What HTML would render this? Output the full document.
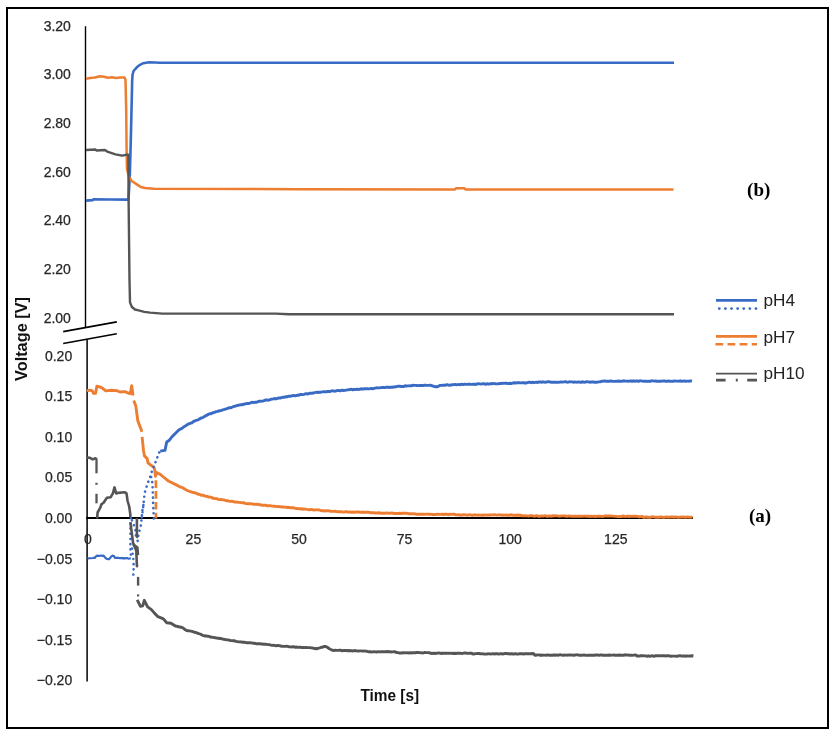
<!DOCTYPE html>
<html><head><meta charset="utf-8"><style>
html,body{margin:0;padding:0;background:#fff;}
svg{display:block;will-change:transform;}
text{paint-order:stroke;}
.tk{font-family:"Liberation Sans",sans-serif;font-size:14px;fill:#262626;stroke:#262626;stroke-width:0.25px;}
.ttl{font-family:"Liberation Sans",sans-serif;font-size:16px;font-weight:bold;fill:#111;}
.lab{font-family:"Liberation Serif",serif;font-size:19px;font-weight:bold;fill:#000;}
.lg{font-family:"Liberation Sans",sans-serif;font-size:17.2px;fill:#222;}
</style></head><body>
<svg width="834" height="734" viewBox="0 0 834 734">
<rect width="834" height="734" fill="#fff"/>
<rect x="7" y="8" width="821" height="720" fill="none" stroke="#000" stroke-width="2"/>
<line x1="85.5" y1="26.3" x2="85.5" y2="327" stroke="#000" stroke-width="1.4"/>
<line x1="87.1" y1="339.5" x2="87.1" y2="681.5" stroke="#000" stroke-width="1.5"/>
<line x1="86.2" y1="518" x2="693" y2="518" stroke="#000" stroke-width="2"/>
<line x1="63.2" y1="331.6" x2="116.8" y2="321.9" stroke="#000" stroke-width="1.6"/>
<line x1="63.2" y1="343.5" x2="116.8" y2="333.7" stroke="#000" stroke-width="1.6"/>
<text x="70.9" y="30.6" class="tk" text-anchor="end">3.20</text>
<text x="70.9" y="79.3" class="tk" text-anchor="end">3.00</text>
<text x="70.9" y="128.0" class="tk" text-anchor="end">2.80</text>
<text x="70.9" y="176.7" class="tk" text-anchor="end">2.60</text>
<text x="70.9" y="225.4" class="tk" text-anchor="end">2.40</text>
<text x="70.9" y="274.1" class="tk" text-anchor="end">2.20</text>
<text x="70.9" y="322.8" class="tk" text-anchor="end">2.00</text>
<text x="72.2" y="360.6" class="tk" text-anchor="end">0.20</text>
<text x="72.2" y="401.2" class="tk" text-anchor="end">0.15</text>
<text x="72.2" y="441.8" class="tk" text-anchor="end">0.10</text>
<text x="72.2" y="482.4" class="tk" text-anchor="end">0.05</text>
<text x="72.2" y="523.0" class="tk" text-anchor="end">0.00</text>
<text x="72.2" y="563.6" class="tk" text-anchor="end">−0.05</text>
<text x="72.2" y="604.2" class="tk" text-anchor="end">−0.10</text>
<text x="72.2" y="644.8" class="tk" text-anchor="end">−0.15</text>
<text x="72.2" y="685.4" class="tk" text-anchor="end">−0.20</text>
<text x="87.8" y="544" class="tk" text-anchor="middle">0</text>
<text x="193.4" y="544" class="tk" text-anchor="middle">25</text>
<text x="299.0" y="544" class="tk" text-anchor="middle">50</text>
<text x="404.6" y="544" class="tk" text-anchor="middle">75</text>
<text x="510.2" y="544" class="tk" text-anchor="middle">100</text>
<text x="615.8" y="544" class="tk" text-anchor="middle">125</text>
<text x="389.8" y="701" class="ttl" text-anchor="middle" textLength="58.7" lengthAdjust="spacingAndGlyphs">Time [s]</text>
<text transform="translate(26.8,339) rotate(-90)" x="0" y="0" class="ttl" text-anchor="middle" textLength="84" lengthAdjust="spacingAndGlyphs">Voltage [V]</text>
<text x="760" y="522" class="lab" text-anchor="middle">(a)</text>
<text x="758.7" y="195.5" class="lab" text-anchor="middle">(b)</text>
<line x1="716" y1="300.4" x2="757" y2="300.4" stroke="#3a6bc4" stroke-width="2.6"/>
<line x1="719.3" y1="308.6" x2="757" y2="308.6" stroke="#3a6bc4" stroke-width="2.9" stroke-dasharray="0.01 6.1" stroke-linecap="round"/>
<line x1="716" y1="336.4" x2="757" y2="336.4" stroke="#ed7d31" stroke-width="2.8"/>
<line x1="715.4" y1="344.2" x2="757" y2="344.2" stroke="#ed7d31" stroke-width="2.6" stroke-dasharray="7.8 4.3"/>
<line x1="716" y1="373.6" x2="757" y2="373.6" stroke="#555555" stroke-width="1.9"/>
<line x1="716" y1="380.2" x2="757" y2="380.2" stroke="#555555" stroke-width="2.8" stroke-dasharray="9.6 10.2 2 9.4 9.6 0"/>
<text x="763.5" y="305.5" class="lg">pH4</text>
<text x="763.5" y="343" class="lg">pH7</text>
<text x="763.5" y="378.7" class="lg">pH10</text>
<polyline points="86.0,200.6 92.6,200.1 93.5,199.4 110.0,199.5 127.0,199.6 128.5,199.6 129.8,176.0 130.8,140.0 131.5,110.0 132.2,80.0 132.6,74.5 133.6,71.0 136.8,67.3 140.0,64.8 143.3,63.2 149.0,62.2 155.0,62.5 160.0,62.7 300.0,62.8 500.0,62.8 674.0,62.8" fill="none" stroke="#3a6bc4" stroke-width="2.6" stroke-linejoin="round"/>
<polyline points="86.0,78.8 90.0,78.0 95.0,77.5 100.0,76.2 104.0,76.8 108.0,77.8 112.0,77.3 116.0,77.9 120.0,77.6 124.6,77.6 125.5,80.0 126.2,110.0 126.6,150.0 126.9,168.6 128.8,176.3 131.7,181.0 134.0,182.5 137.2,184.6 140.8,187.0 145.0,188.0 154.0,188.7 300.0,189.2 455.0,189.5 456.0,188.3 464.5,188.3 465.5,189.6 673.5,189.6" fill="none" stroke="#ed7d31" stroke-width="2.5" stroke-linejoin="round"/>
<polyline points="86.0,150.0 95.5,149.5 96.4,150.5 105.0,150.0 107.9,151.9 115.5,154.3 122.2,155.7 126.0,154.8 128.4,154.8 128.6,200.0 129.5,280.0 130.0,302.4 131.9,307.0 135.0,309.5 138.6,310.4 144.3,311.9 150.0,312.6 162.4,313.6 275.7,313.6 288.6,314.2 674.0,314.2" fill="none" stroke="#555555" stroke-width="2.4" stroke-linejoin="round"/>
<polyline points="86.7,390.6 90.1,390.2 92.4,390.9 93.5,393.3 95.6,393.3 96.9,386.1 100.3,387.1 102.4,388.1 105.8,390.9 111.2,390.2 116.7,390.6 120.1,392.0 124.9,391.6 129.0,393.3 130.3,393.6 131.7,385.7 133.0,395.5" fill="none" stroke="#ed7d31" stroke-width="2.9" stroke-linejoin="round"/>
<polyline points="133.7,400.4 135.8,405.9 137.8,420.8 140.5,427.7 141.9,431.7" fill="none" stroke="#ed7d31" stroke-width="2.9" stroke-linejoin="round"/>
<polyline points="142.1,436.8 143.5,450.4 144.5,455.9 147.2,458.6 147.9,462.7 150.3,464.8 153.7,467.1 154.7,469.5 155.4,476.3 156.7,472.6 160.0,474.2 164.0,477.5 168.4,481.0 176.8,485.1 178.0,485.7 179.2,486.4 180.3,487.0 181.5,487.2 182.7,487.8 183.9,488.6 185.1,489.1 186.2,490.0 187.4,490.5 188.6,491.0 189.9,491.5 191.3,491.9 192.6,492.4 194.0,492.5 195.3,493.1 196.6,493.3 198.0,494.2 199.3,494.1 200.7,495.0 202.0,495.2 203.3,495.3 204.7,496.0 206.0,496.1 207.4,496.5 208.7,497.1 210.0,497.0 211.4,497.3 212.7,498.2 214.1,498.3 215.4,498.6 216.8,498.6 218.1,499.4 219.5,499.6 220.8,499.4 222.2,499.8 223.5,499.9 224.8,500.2 226.2,500.7 227.6,500.6 228.9,501.1 230.2,501.4 231.6,501.2 232.9,501.4 234.3,502.0 235.6,501.9 236.9,502.1 238.3,502.3 239.6,502.4 241.0,502.6 242.3,502.8 243.6,502.7 245.0,503.3 246.3,503.6 247.7,503.7 249.0,503.7 250.3,503.7 251.7,503.8 253.0,504.2 254.4,504.3 255.7,504.4 257.1,504.3 258.5,504.5 259.9,504.7 261.3,505.0 262.7,505.3 264.1,505.3 265.5,505.1 266.9,505.7 268.3,505.6 269.7,505.8 271.1,505.8 272.5,506.1 273.8,506.2 275.2,506.3 276.5,506.6 277.9,506.4 279.2,506.7 280.6,506.6 281.9,507.1 283.3,506.8 284.6,507.1 286.0,507.2 287.3,507.5 288.7,507.3 290.0,507.7 291.4,507.8 292.8,507.8 294.2,508.0 295.6,508.3 297.0,508.7 298.4,508.5 299.8,509.0 301.2,508.6 302.6,509.2 304.0,509.0 305.4,509.1 306.8,509.4 308.2,509.6 309.6,509.8 311.0,509.4 312.4,509.7 313.8,510.1 315.2,509.9 316.6,509.9 318.0,509.9 319.4,510.0 320.8,510.5 322.2,510.8 323.6,510.6 325.0,511.0 326.4,510.8 327.8,510.6 329.2,510.9 330.6,511.3 332.0,511.4 333.4,511.4 334.8,511.2 336.2,511.5 337.6,511.6 339.0,511.8 340.4,511.8 341.7,511.7 343.0,512.1 344.4,512.1 345.7,511.7 347.0,511.8 348.3,512.2 349.6,511.9 351.0,512.3 352.3,512.0 353.6,512.2 354.9,512.2 356.3,511.9 357.6,512.0 358.9,512.0 360.2,512.3 361.5,512.3 362.9,512.0 364.2,512.5 365.5,512.3 366.8,512.3 368.1,512.3 369.5,512.4 370.8,512.8 372.1,512.6 373.4,512.7 374.8,513.0 376.1,513.0 377.4,513.0 378.7,512.8 380.0,513.0 381.4,513.2 382.7,513.2 384.0,513.1 385.3,513.2 386.6,513.0 387.9,513.1 389.2,513.3 390.5,513.2 391.8,512.9 393.1,513.3 394.4,513.5 395.8,513.4 397.1,513.5 398.4,513.5 399.7,513.3 401.0,513.5 402.3,513.3 403.6,513.1 404.9,513.3 406.2,513.3 407.5,513.4 408.8,513.8 410.1,513.7 411.4,513.7 412.7,513.9 414.1,513.7 415.4,514.0 416.7,514.2 418.0,514.1 419.3,514.3 420.6,514.1 422.0,514.2 423.3,514.2 424.6,514.4 426.0,514.1 427.3,514.1 428.7,514.2 430.0,514.3 431.3,514.4 432.7,514.5 434.0,514.4 435.3,514.6 436.6,514.3 438.0,514.1 439.3,514.4 440.6,514.4 441.9,514.2 443.3,514.5 444.6,514.3 445.9,514.3 447.2,514.3 448.6,514.7 449.9,514.2 451.2,514.4 452.5,514.3 453.9,514.3 455.2,514.5 456.0,514.9 457.3,514.9 458.6,514.7 460.0,515.2 461.3,514.9 462.6,515.0 463.9,514.7 465.2,514.9 466.5,515.0 467.9,515.1 469.2,514.8 470.5,514.9 471.8,515.2 473.1,515.2 474.5,514.8 475.8,515.0 477.1,515.1 478.4,514.9 479.7,515.1 481.0,515.1 482.4,515.3 483.7,515.0 485.0,515.1 486.3,514.9 487.6,515.1 489.0,514.9 490.3,515.0 491.6,514.9 492.9,514.9 494.2,514.8 495.6,514.9 496.9,515.1 498.2,514.9 499.5,514.8 500.8,515.2 502.1,514.9 503.5,515.3 504.8,515.1 506.1,515.0 507.4,515.3 508.7,515.3 510.1,515.0 511.4,514.8 512.7,515.2 514.0,515.3 515.3,515.1 516.6,515.3 518.0,515.0 519.3,515.2 520.6,515.1 521.0,515.9 522.3,515.8 523.6,515.9 524.9,515.8 526.2,515.9 527.5,515.9 528.8,516.1 530.1,515.7 531.4,515.8 532.7,515.8 534.0,516.2 535.3,516.0 536.6,515.7 537.9,516.2 539.2,516.2 540.5,516.2 541.8,515.9 543.1,516.2 544.4,515.9 545.7,515.8 547.0,516.3 548.3,516.2 549.6,515.9 550.9,516.3 552.2,515.8 553.5,516.0 554.8,515.8 556.1,515.9 557.4,515.9 558.7,516.2 560.0,516.1 561.3,516.0 562.6,515.9 563.9,515.9 565.2,516.0 566.5,516.3 567.8,516.2 569.1,515.9 570.5,516.2 571.8,516.2 573.1,516.1 574.4,516.2 575.7,516.2 577.0,516.3 578.3,516.2 579.6,516.3 580.9,516.2 582.2,516.3 583.5,516.1 584.8,516.1 586.1,516.2 587.4,516.3 588.7,516.1 590.0,516.5 591.4,516.2 592.7,516.4 594.0,516.3 595.3,516.5 596.6,516.3 597.9,516.2 599.2,516.2 600.5,516.3 601.8,516.4 603.1,516.5 604.4,516.0 605.7,516.0 607.0,516.0 608.3,516.0 609.6,516.0 610.9,516.0 612.3,516.1 613.6,516.1 614.9,516.4 616.2,516.4 617.5,516.6 618.8,516.6 620.1,516.5 621.4,516.6 622.7,516.0 624.0,516.2 625.3,516.6 626.6,516.3 627.9,516.2 629.2,516.5 630.5,516.3 631.8,516.4 633.2,516.3 634.5,516.2 635.8,516.1 637.1,516.4 638.4,516.7 639.7,516.7 641.0,516.6 642.3,516.4 643.0,517.1 644.3,517.4 645.6,517.0 646.9,517.0 648.2,517.4 649.5,517.2 650.8,517.2 652.1,516.8 653.4,516.9 654.7,517.1 656.1,517.2 657.4,517.3 658.7,517.3 660.0,517.0 661.3,517.0 662.6,517.3 663.9,517.4 665.2,517.1 666.5,516.9 667.8,517.2 669.1,517.1 670.4,517.0 671.7,516.9 673.0,517.0 674.3,517.2 675.6,516.9 676.9,517.1 678.2,517.4 679.5,517.2 680.9,517.0 682.2,517.1 683.5,516.9 684.8,517.2 686.1,517.2 687.4,516.9 688.7,517.1 690.0,517.2 691.3,517.1 692.6,517.1" fill="none" stroke="#ed7d31" stroke-width="2.9" stroke-linejoin="round"/>
<polyline points="155.9,480.3 156.0,500.0 155.9,518.6" fill="none" stroke="#ed7d31" stroke-width="2.7" stroke-dasharray="7.7 3.1"/>
<polyline points="87.5,558.4 93.0,558.0 94.0,557.7 95.0,557.8 96.0,556.4 97.0,555.7 98.1,555.8 99.2,555.8 100.3,555.7 101.4,555.5 102.5,555.9 103.6,555.7 105.0,557.4 106.0,558.4 107.0,559.0 108.0,559.1 109.0,559.2 111.0,556.9 112.3,555.7 114.0,556.0 115.0,557.9 116.0,557.9 117.0,557.8 118.0,557.7 119.0,558.0 120.0,558.1 121.0,558.2 122.0,557.9 123.0,558.4 124.0,558.1 125.0,558.3 126.2,558.2 127.4,558.1 128.5,558.7 129.7,558.5 130.9,558.4" fill="none" stroke="#3a6bc4" stroke-width="2.2" stroke-linejoin="round"/>
<polyline points="130.9,518.1 130.4,526.8 130.4,537.7 130.4,548.6 130.9,555.1" fill="none" stroke="#3a6bc4" stroke-width="2.6" stroke-dasharray="0.01 5.2" stroke-linecap="round"/>
<polyline points="132.0,520.3 135.3,529.0 136.3,539.9" fill="none" stroke="#3a6bc4" stroke-width="2.6" stroke-dasharray="0.01 5.2" stroke-linecap="round"/>
<polyline points="132.0,548.6 133.6,561.7 133.6,570.4 133.1,576.9" fill="none" stroke="#3a6bc4" stroke-width="2.6" stroke-dasharray="0.01 5.2" stroke-linecap="round"/>
<polyline points="143.4,505.0 142.3,511.0 141.8,516.4 141.3,521.3 140.7,526.8 139.1,532.2 138.0,537.2 137.4,543.1" fill="none" stroke="#3a6bc4" stroke-width="2.6" stroke-dasharray="0.01 5.2" stroke-linecap="round"/>
<polyline points="141.8,517.4 143.4,505.4 144.5,493.4 147.2,484.7 150.5,476.0 152.4,469.5 154.7,464.8 155.8,461.3 157.5,456.9 158.5,453.5 160.2,451.1" fill="none" stroke="#3a6bc4" stroke-width="2.6" stroke-dasharray="0.01 5.2" stroke-linecap="round"/>
<polyline points="153.8,518.5 153.2,505.4 152.7,489.0 152.1,480.3 150.5,474.9" fill="none" stroke="#3a6bc4" stroke-width="2.6" stroke-dasharray="0.01 5.2" stroke-linecap="round"/>
<polyline points="160.2,451.1 163.0,450.6 165.0,450.4 166.7,442.0 169.4,440.2 171.8,437.0 178.5,430.3 179.7,429.5 180.9,428.8 182.1,428.3 183.3,427.2 184.5,426.4 185.7,425.7 186.9,424.9 188.2,424.1 189.4,423.7 190.7,423.2 191.9,422.8 193.2,421.7 194.4,421.2 195.7,420.5 196.9,420.2 198.2,419.8 199.4,419.1 200.7,418.0 201.9,418.0 203.2,417.3 204.5,416.5 205.7,415.8 207.0,415.1 208.3,414.4 209.6,413.8 210.9,413.8 212.2,413.0 213.6,412.6 214.9,412.2 216.2,411.6 217.5,411.4 218.8,411.0 220.1,410.6 221.3,410.5 222.6,409.9 223.8,409.6 225.1,409.1 226.4,408.8 227.6,408.3 228.9,407.8 230.1,407.9 231.4,407.5 232.6,407.0 233.9,406.4 235.2,406.2 236.6,405.7 237.9,405.3 239.3,405.1 240.6,404.6 241.9,404.8 243.3,404.2 244.6,404.2 246.0,403.6 247.3,403.4 248.6,403.5 250.0,403.2 251.3,402.4 252.7,402.3 254.0,402.6 255.3,402.1 256.7,402.2 258.0,401.6 259.4,401.1 260.7,401.2 262.0,401.1 263.3,401.0 264.6,400.4 265.9,400.0 267.2,400.0 268.5,400.2 269.7,399.9 271.0,399.2 272.3,399.1 273.6,398.8 274.9,398.5 276.2,398.8 277.5,398.4 278.9,397.9 280.3,398.0 281.7,397.6 283.1,397.2 284.4,397.3 285.8,396.7 287.2,396.8 288.6,396.2 290.0,396.2 291.3,396.0 292.6,395.6 293.9,395.5 295.2,395.8 296.5,395.5 297.8,395.0 299.0,395.2 300.3,394.5 301.6,394.5 302.9,394.6 304.2,394.3 305.5,393.7 306.8,393.8 308.1,394.0 309.4,393.3 310.7,393.2 312.0,393.4 313.3,392.9 314.6,392.7 315.8,392.4 317.1,392.3 318.4,392.5 319.7,392.1 321.0,392.2 322.3,391.9 323.6,391.8 324.9,391.7 326.3,391.9 327.6,391.5 328.9,391.4 330.2,391.5 331.6,390.9 332.9,390.8 334.2,391.2 335.5,391.1 336.9,390.6 338.2,390.4 339.5,390.7 340.8,390.7 342.2,390.1 343.5,390.5 344.8,390.4 346.1,390.1 347.5,389.9 348.8,389.8 350.1,389.4 351.4,389.3 352.8,389.9 354.1,389.3 355.4,389.6 356.7,389.2 358.0,389.5 359.4,389.3 360.7,389.0 362.0,388.8 363.3,389.1 364.7,388.6 366.0,388.7 367.3,388.8 368.6,388.9 369.9,388.7 371.3,388.4 372.6,388.8 373.9,388.4 375.3,388.1 376.7,387.8 378.1,387.9 379.5,387.9 380.9,387.6 382.3,387.5 383.7,387.5 385.1,387.6 386.5,387.2 387.9,387.2 389.3,387.5 390.7,387.1 392.0,387.3 393.3,387.0 394.6,387.0 395.9,386.8 397.2,386.4 398.5,386.2 399.8,386.1 401.1,386.6 402.4,386.4 403.8,386.5 405.1,385.7 406.4,386.1 407.7,385.9 409.0,385.9 410.3,385.6 411.6,385.9 412.9,385.2 414.2,385.4 415.5,385.4 416.8,385.5 418.1,385.6 419.5,385.5 420.8,385.4 422.1,385.5 423.4,385.5 424.7,385.1 426.1,385.3 427.4,385.4 428.7,385.4 430.0,385.1 431.3,385.4 432.7,386.1 434.0,386.3 435.5,386.8 437.0,386.8 438.6,386.2 440.1,385.4 441.5,385.4 442.8,385.2 444.2,385.2 445.5,385.2 446.9,384.7 448.2,385.0 449.6,385.2 450.9,385.0 452.2,384.8 453.6,384.6 455.0,384.5 456.4,384.7 457.8,384.6 459.2,384.5 460.6,384.7 462.0,384.2 463.4,384.6 464.8,384.1 466.2,384.4 467.6,384.3 469.0,384.1 470.4,384.3 471.7,384.4 473.1,384.2 474.4,384.3 475.8,384.5 477.1,383.9 478.4,383.7 479.8,383.9 481.1,384.1 482.5,383.8 483.8,383.7 485.1,384.2 486.5,384.0 487.8,383.8 489.2,384.1 490.5,383.6 491.8,383.8 493.2,383.5 494.5,383.6 495.9,383.8 497.2,383.9 498.5,383.8 499.9,383.4 501.2,383.5 502.6,383.3 503.9,383.4 505.2,383.1 506.5,383.3 507.8,383.5 509.1,383.5 510.4,383.3 511.7,383.5 513.0,383.0 514.3,382.8 515.6,383.0 516.9,382.8 518.2,382.7 519.5,382.8 520.8,382.9 522.1,382.8 523.4,382.6 524.7,383.0 526.0,383.0 527.3,382.6 528.6,382.3 529.9,382.2 531.2,382.8 532.5,382.2 533.8,382.6 535.1,382.4 536.4,382.2 537.7,382.5 539.0,381.9 540.3,382.0 541.6,382.2 542.9,381.8 544.2,382.1 545.5,382.3 546.8,381.9 548.2,381.8 549.5,381.8 550.8,382.2 552.1,382.1 553.4,382.2 554.7,382.2 556.0,382.3 557.4,382.4 558.7,382.2 560.0,382.1 561.3,381.9 562.7,382.1 564.0,381.9 565.3,381.7 566.7,382.0 568.0,382.2 569.3,381.8 570.7,381.9 572.0,381.9 573.3,382.2 574.7,382.0 576.0,382.1 577.3,382.2 578.7,381.9 580.0,382.2 581.3,382.3 582.7,381.7 584.0,382.3 585.3,382.1 586.7,381.7 588.0,381.9 589.3,382.0 590.7,382.2 592.0,381.9 593.3,382.0 594.7,382.2 596.0,382.1 597.3,382.2 598.7,381.9 600.0,381.9 602.0,381.1 603.3,381.2 604.6,380.9 605.9,381.3 607.2,381.3 608.5,381.2 609.8,381.3 611.1,380.9 612.4,381.4 613.7,381.4 615.0,381.4 616.3,381.1 617.7,381.3 619.0,381.0 620.3,381.4 621.6,381.3 622.9,381.0 624.2,380.8 625.5,381.1 626.8,381.1 628.1,381.3 629.4,381.1 630.7,380.8 632.0,381.3 633.3,380.8 634.6,381.3 635.9,380.9 637.2,381.0 638.5,381.3 639.8,380.8 641.1,380.9 642.4,381.1 643.7,381.3 645.0,381.3 646.3,381.2 647.7,381.4 649.0,381.1 650.3,381.4 651.6,380.8 652.9,380.9 654.2,381.1 655.5,381.0 656.8,381.3 658.1,381.2 659.4,381.1 660.7,381.3 662.0,381.1 663.3,381.0 664.6,381.0 665.9,381.3 667.2,381.4 668.5,380.9 669.8,381.3 671.1,381.4 672.4,381.1 673.7,381.2 675.0,380.9 676.3,381.1 677.7,381.1 679.0,381.2 680.3,380.8 681.6,381.4 682.9,381.1 684.2,381.0 685.5,381.3 686.8,381.1 688.1,381.1 689.4,381.2 690.7,380.8 692.0,381.1" fill="none" stroke="#3a6bc4" stroke-width="2.9" stroke-linejoin="round"/>
<polyline points="86.7,457.6 90.0,457.8 92.7,459.4 95.4,458.3 96.5,459.0" fill="none" stroke="#555555" stroke-width="2.6" stroke-linejoin="round"/>
<polyline points="97.1,518.5 97.6,512.5 100.3,507.6 101.4,504.3 103.6,502.7 106.9,497.8 110.7,497.2 112.9,493.4 114.5,487.4 116.2,493.4 117.8,492.9 124.9,492.3 126.5,493.4 127.6,501.0 129.2,506.5 130.3,514.1 130.4,517.0" fill="none" stroke="#555555" stroke-width="2.6" stroke-linejoin="round"/>
<polyline points="130.4,522.4 133.1,543.1 136.3,550.8 136.9,566.0 138.0,566.6" fill="none" stroke="#555555" stroke-width="2.6" stroke-linejoin="round"/>
<polyline points="136.9,518.1 136.9,536.6 138.0,537.7" fill="none" stroke="#555555" stroke-width="2.6" stroke-linejoin="round"/>
<polyline points="133.1,544.2 137.4,547.5 138.0,555.1" fill="none" stroke="#555555" stroke-width="2.6" stroke-linejoin="round"/>
<polyline points="137.2,599.8 140.5,606.3 142.7,605.8 144.3,600.3 147.6,606.9 151.4,609.6 154.7,613.4 158.0,616.7 163.4,618.9 166.7,622.7 171.0,623.2 175.4,626.0 176.9,626.2 178.5,626.8 180.0,627.0 182.5,627.6 183.9,628.7 185.3,629.8 186.7,630.6 188.0,630.7 189.4,630.9 190.7,631.1 192.1,631.4 193.4,631.8 194.7,632.4 196.0,632.5 197.3,633.2 198.6,633.5 200.0,634.0 201.3,634.6 202.6,635.3 203.9,635.6 205.2,636.0 206.5,635.9 207.9,636.3 209.2,636.4 210.6,637.1 211.9,637.2 213.2,637.4 214.6,637.7 215.9,637.8 217.3,638.2 218.6,638.1 219.9,638.5 221.2,638.5 222.5,639.1 223.8,639.2 225.2,639.6 226.5,639.7 227.8,639.9 229.1,640.2 230.4,640.5 231.8,640.6 233.2,640.8 234.6,640.8 236.0,641.4 237.4,641.6 238.8,641.9 240.1,641.9 241.5,642.0 242.9,642.3 244.3,642.1 245.7,642.6 247.1,642.7 248.5,642.8 249.9,642.8 251.3,642.9 252.7,643.2 254.1,643.2 255.5,643.5 256.9,643.7 258.3,643.7 259.7,643.7 261.1,644.0 262.5,644.0 263.9,644.3 265.3,644.3 266.7,644.4 268.1,644.6 269.5,644.6 270.9,645.1 272.3,645.4 273.7,645.2 275.1,645.6 276.5,645.8 277.9,645.4 279.3,645.6 280.7,646.0 282.1,646.3 283.5,646.4 284.9,646.4 286.3,646.2 287.7,646.4 289.1,646.8 290.5,646.9 291.9,647.0 293.3,646.7 294.7,647.2 296.1,647.0 297.5,647.2 298.9,647.4 300.3,647.1 301.7,647.6 303.1,647.4 304.4,647.6 305.8,647.3 307.2,647.6 308.6,647.6 310.0,647.6 311.3,647.9 312.7,648.0 314.0,648.5 315.4,648.5 316.7,648.8 318.4,648.2 320.0,647.8 321.3,647.2 322.6,647.2 323.8,646.5 325.1,646.4 326.4,646.9 327.7,647.5 329.0,648.5 330.2,649.2 331.5,649.8 332.7,650.4 334.0,650.5 335.4,650.2 336.7,650.4 338.1,650.4 339.4,650.3 340.8,650.3 342.1,650.9 343.5,650.4 344.8,650.5 346.2,650.5 347.5,650.7 348.9,650.5 350.2,650.7 351.6,650.7 352.9,651.0 354.3,650.5 355.6,650.7 357.0,650.9 358.3,651.2 359.7,650.9 361.0,650.9 362.4,651.1 363.7,651.0 365.4,651.1 367.1,651.3 368.8,651.8 370.1,651.8 371.4,652.0 372.8,651.9 374.1,651.7 375.4,651.9 376.7,652.0 378.0,651.7 379.4,651.9 380.7,651.7 382.0,651.6 383.3,651.7 384.7,651.6 386.0,651.7 387.3,651.5 388.6,651.7 389.9,651.6 391.3,652.0 392.6,651.9 393.9,651.8 395.2,651.8 396.4,652.6 397.7,652.5 399.0,653.0 400.4,653.0 401.7,653.0 403.1,652.8 404.4,652.8 405.8,652.9 407.1,652.7 408.5,653.1 409.9,652.6 411.2,653.0 412.6,652.6 413.9,652.7 415.3,652.7 416.6,652.5 418.0,652.5 419.4,652.6 420.7,652.7 422.1,652.9 423.4,653.0 424.8,652.4 426.1,652.6 427.5,652.6 429.2,652.7 430.9,653.3 432.2,653.5 433.5,653.2 434.9,653.5 436.2,653.3 437.5,653.1 438.8,653.0 440.2,653.1 441.5,653.5 442.8,653.1 444.1,653.3 445.4,653.2 446.8,653.2 448.1,653.4 449.4,653.1 450.7,653.4 452.1,653.3 453.4,653.5 454.7,653.3 456.0,653.5 457.4,653.2 458.7,653.3 460.0,653.3 461.3,653.4 462.6,653.5 464.0,653.0 465.3,653.0 466.6,653.2 467.9,653.4 469.3,653.2 470.6,653.1 471.9,653.2 472.3,653.8 473.6,654.1 474.9,653.7 476.2,653.6 477.6,653.5 478.9,653.5 480.2,653.9 481.5,653.6 482.8,653.9 484.1,654.0 485.4,654.1 486.7,654.0 488.1,653.8 489.4,653.9 490.7,654.0 492.0,653.9 493.3,653.7 494.6,654.0 495.9,653.6 497.2,653.7 498.6,654.1 499.9,653.8 501.2,653.7 502.5,654.0 503.8,653.8 505.1,653.5 506.4,653.5 507.7,653.7 509.1,653.7 510.4,654.1 511.7,653.6 513.0,654.0 514.3,654.0 515.6,653.7 516.9,654.1 518.2,654.0 519.6,653.8 520.9,653.7 522.2,653.8 523.5,654.0 524.8,653.8 526.1,653.6 527.4,653.7 528.7,653.8 530.1,653.6 531.4,653.8 532.7,653.5 534.0,653.8 534.5,655.1 535.8,655.3 537.1,654.9 538.4,654.9 539.7,655.2 541.0,655.0 542.3,655.3 543.6,655.1 544.9,655.1 546.2,655.3 547.6,654.9 548.9,655.2 550.2,655.2 551.5,655.1 552.8,655.4 554.1,654.8 555.4,655.3 556.7,654.9 558.0,655.3 559.3,654.9 560.6,654.8 561.9,655.1 563.2,655.4 564.5,655.0 565.8,655.1 567.1,655.2 568.4,654.9 569.7,655.1 571.0,654.8 572.3,655.1 573.7,655.3 575.0,655.0 576.3,654.9 577.6,654.8 578.9,655.2 580.2,655.1 581.5,655.3 582.8,655.2 584.1,654.9 585.4,655.3 586.7,655.4 588.0,655.3 589.3,655.3 590.6,655.2 591.9,655.2 593.2,655.2 594.5,655.2 595.8,655.0 597.1,654.9 598.5,655.2 599.8,655.2 601.1,654.8 602.4,655.2 603.7,655.2 605.0,655.1 606.3,655.3 607.6,655.3 608.9,655.0 610.2,655.3 611.5,655.1 612.8,655.1 614.1,655.0 615.4,655.4 616.7,655.1 618.0,655.4 619.3,655.0 620.6,655.2 621.9,655.3 623.2,655.2 624.6,655.0 625.9,654.8 627.2,655.1 628.5,655.0 629.8,655.3 631.1,655.3 632.4,655.4 633.7,655.1 635.0,655.0 636.3,655.1 636.8,656.0 638.1,656.0 639.4,656.1 640.7,655.7 642.1,655.8 643.4,655.8 644.7,655.9 646.0,655.9 647.3,656.3 648.6,655.8 650.0,656.3 651.3,655.9 652.6,655.8 653.9,656.3 655.2,655.8 656.5,655.8 657.9,655.8 659.2,655.7 660.5,655.9 661.8,655.8 663.1,655.8 664.4,655.7 665.8,656.1 667.1,655.7 668.4,655.8 669.7,656.0 671.0,656.2 672.3,656.1 673.7,656.1 675.0,656.1 676.3,656.2 677.6,656.2 678.9,655.8 680.2,655.7 681.6,656.1 682.9,656.0 684.2,656.0 685.5,656.2 686.8,655.8 688.1,656.1 689.5,656.0 690.8,656.0 692.1,655.8 693.4,656.0" fill="none" stroke="#555555" stroke-width="2.9" stroke-linejoin="round"/>
<line x1="96.5" y1="458.3" x2="96.5" y2="473.3" stroke="#555555" stroke-width="2.3"/>
<line x1="96.5" y1="482.8" x2="96.5" y2="484.8" stroke="#555555" stroke-width="2.3"/>
<line x1="96.5" y1="493.8" x2="96.5" y2="503.3" stroke="#555555" stroke-width="2.3"/>
<polyline points="138.1,576.9 138.1,585.6" fill="none" stroke="#555555" stroke-width="2.4"/>
<rect x="137" y="594.4" width="2.2" height="2" fill="#555555"/>
</svg>
</body></html>
